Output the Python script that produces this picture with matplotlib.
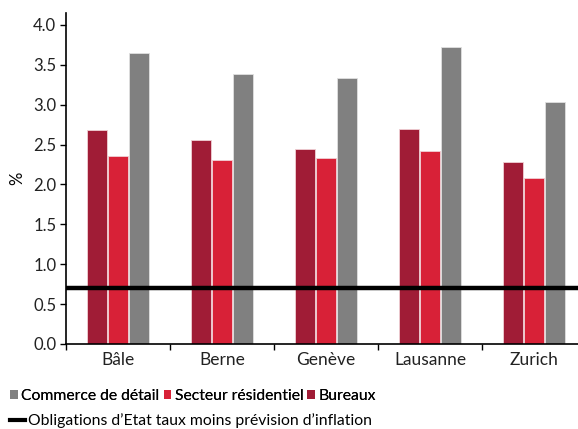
import matplotlib
matplotlib.use("Agg")
import matplotlib.pyplot as plt
import numpy as np
from matplotlib.patches import Patch
from matplotlib.lines import Line2D

plt.rcParams['font.family'] = ['Lato', 'DejaVu Sans']

cities = ["Bâle", "Berne", "Genève", "Lausanne", "Zurich"]
bureaux = [2.68, 2.56, 2.44, 2.70, 2.28]
residentiel = [2.36, 2.31, 2.33, 2.42, 2.08]
commerce = [3.65, 3.39, 3.34, 3.72, 3.03]
obligations = 0.70

c_bur = "#A01C36"
c_res = "#D82137"
c_com = "#808080"

fig = plt.figure(figsize=(5.78, 4.29), dpi=100)
ax = fig.add_axes([66/578, 85/429, 520/578, 331/429])

x = np.arange(len(cities))
w = 0.19
ax.bar(x - 0.2, bureaux, w, color=c_bur, edgecolor="#f0d0d5", linewidth=0.6)
ax.bar(x, residentiel, w, color=c_res, edgecolor="#f0d0d5", linewidth=0.6)
ax.bar(x + 0.2, commerce, w, color=c_com, edgecolor="#e0e0e0", linewidth=0.6)
ax.axhline(obligations, color="black", linewidth=3.2, zorder=5)

ax.set_xlim(-0.5, 4.5)
ax.set_ylim(0, 4.15)
ax.set_yticks(np.arange(0, 4.01, 0.5))
ax.set_yticklabels([f"{v:.1f}" for v in np.arange(0, 4.01, 0.5)], fontsize=12, color="#222222")
ax.set_xticks(np.arange(-0.5, 4.6, 1.0))
ax.set_xticklabels([])
ax.set_xticks(x, minor=True)
ax.set_xticklabels(cities, minor=True, fontsize=12.5, color="#222222")
ax.tick_params(axis='x', which='minor', length=0, pad=6)
ax.tick_params(axis='x', which='major', length=4, width=1)
ax.tick_params(axis='y', length=4, width=1, pad=3)
ax.set_ylabel("%", fontsize=12, labelpad=6)
for s in ["top", "right"]:
    ax.spines[s].set_visible(False)
ax.spines["left"].set_linewidth(1.2)
ax.spines["bottom"].set_linewidth(1.2)

h1 = [Patch(facecolor=c_com), Patch(facecolor=c_res), Patch(facecolor=c_bur)]
l1 = ["Commerce de détail", "Secteur résidentiel", "Bureaux"]
leg1 = fig.legend(h1, l1, loc="center left", bbox_to_anchor=(0.01, (429-396)/429),
                  ncol=3, frameon=False, fontsize=11.3, handlelength=0.5, handleheight=0.5,
                  handletextpad=0.2, columnspacing=0.25, borderaxespad=0, borderpad=0.3)
fig.add_artist(leg1)
h2 = [Line2D([0], [0], color="black", linewidth=3)]
l2 = ["Obligations d\u2019Etat taux moins prévision d\u2019inflation"]
fig.legend(h2, l2, loc="center left", bbox_to_anchor=(0.01, (429-421)/429),
           frameon=False, fontsize=11.3, handlelength=0.9, handletextpad=0.2,
           borderaxespad=0, borderpad=0.3)

fig.savefig("out.png", dpi=100)
